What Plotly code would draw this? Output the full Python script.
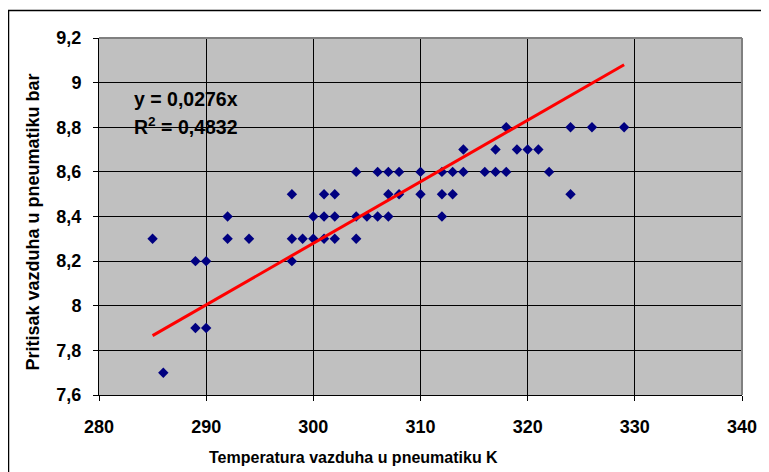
import plotly.graph_objects as go

# ---- data ----
temperature_K = [285, 286, 289, 290, 289, 290, 292, 292, 294,
                 298, 298, 298, 299, 300, 300,
                 301, 302, 304,
                 301, 302, 304, 305, 306, 307, 312,
                 301, 302, 307, 308, 310, 312, 313,
                 304, 306, 307, 308, 310, 312, 313, 314, 316, 317, 318, 322,
                 314, 317, 319, 320, 321,
                 318, 324, 326, 329,
                 324]
pressure_bar = [8.3, 7.7, 8.2, 8.2, 7.9, 7.9, 8.4, 8.3, 8.3,
                8.5, 8.3, 8.2, 8.3, 8.3, 8.4,
                8.3, 8.3, 8.3,
                8.4, 8.4, 8.4, 8.4, 8.4, 8.4, 8.4,
                8.5, 8.5, 8.5, 8.5, 8.5, 8.5, 8.5,
                8.6, 8.6, 8.6, 8.6, 8.6, 8.6, 8.6, 8.6, 8.6, 8.6, 8.6, 8.6,
                8.7, 8.7, 8.7, 8.7, 8.7,
                8.8, 8.8, 8.8, 8.8,
                8.5]
x_tick_values = [280, 290, 300, 310, 320, 330, 340]
x_tick_labels = ["280", "290", "300", "310", "320", "330", "340"]
y_tick_values = [7.6, 7.8, 8.0, 8.2, 8.4, 8.6, 8.8, 9.0, 9.2]
y_tick_labels = ["7,6", "7,8", "8", "8,2", "8,4", "8,6", "8,8", "9", "9,2"]
trend_slope = 0.0276
r_squared_label = "0,4832"
x_title = "Temperatura vazduha u pneumatiku K"
y_title = "Pritisak vazduha u pneumatiku bar"

trend_x = [min(temperature_K), max(temperature_K)]
trend_y = [trend_slope * v for v in trend_x]

FONT = "Liberation Sans, Arial, sans-serif"

# The page places the figure at an 8px body margin; geometry below is in
# window pixels and converted to figure-paper fractions.
OFF = 8
W, H = 769 - OFF, 472 - OFF
PLOT_L, PLOT_R, PLOT_T, PLOT_B = 99, 747, 38, 395   # window pixels
L, R = PLOT_L - OFF, W - (PLOT_R - OFF)
T, B = PLOT_T - OFF, H - (PLOT_B - OFF)
PW, PH = PLOT_R - PLOT_L, PLOT_B - PLOT_T


def px_x(p):
    return (p - PLOT_L) / PW


def px_y(p):
    return (PLOT_B - p) / PH


def bold(s):
    return "<b>" + s + "</b>"


fig = go.Figure()
fig.add_trace(go.Scatter(
    x=temperature_K, y=pressure_bar, mode="markers",
    marker=dict(symbol="diamond", size=8, color="#000080",
                line=dict(width=0)),
    showlegend=False, hoverinfo="x+y"))
fig.add_trace(go.Scatter(
    x=trend_x, y=trend_y, mode="lines",
    line=dict(color="#FF0000", width=3),
    showlegend=False, hoverinfo="skip"))

axis_common = dict(
    showgrid=True, gridcolor="#000000", gridwidth=1,
    showline=True, linecolor="#000000", linewidth=1,
    ticks="outside", ticklen=5, tickcolor="#000000",
    tickfont=dict(family=FONT, size=18, color="#000000"),
    zeroline=False,
)

fig.update_xaxes(range=[280, 340], tickmode="array",
                 tickvals=x_tick_values,
                 ticktext=[bold(t) for t in x_tick_labels],
                 ticklabelstandoff=10, **axis_common)
fig.update_yaxes(range=[7.6, 9.2], tickmode="array",
                 tickvals=y_tick_values,
                 ticktext=[bold(t) for t in y_tick_labels],
                 ticklabelstandoff=8, **axis_common)

fig.update_layout(
    width=W, height=H,
    margin=dict(l=L, r=R, t=T, b=B, pad=0),
    paper_bgcolor="#FFFFFF", plot_bgcolor="#C0C0C0",
    font=dict(family=FONT, color="#000000"),
    shapes=[
        # outer chart border (left and top visible)
        dict(type="rect", xref="paper", yref="paper",
             x0=px_x(7.8), x1=px_x(800), y0=px_y(520), y1=px_y(10.5),
             line=dict(color="#000000", width=1.5), layer="below"),
        # grey plot-area frame (top and right)
        dict(type="line", xref="paper", yref="paper",
             x0=0, x1=1, y0=1, y1=1,
             line=dict(color="#808080", width=2), layer="above"),
        dict(type="line", xref="paper", yref="paper",
             x0=1, x1=1, y0=0, y1=1,
             line=dict(color="#808080", width=2), layer="above"),
    ],
    annotations=[
        dict(text=bold(x_title), xref="paper", yref="paper",
             x=px_x(355), y=px_y(457), xanchor="center", yanchor="middle",
             showarrow=False,
             font=dict(family=FONT, size=16, color="#000000")),
        dict(text=bold(y_title), xref="paper", yref="paper",
             x=px_x(32), y=px_y(222), xanchor="center", yanchor="middle",
             textangle=-90, showarrow=False,
             font=dict(family=FONT, size=18, color="#000000")),
        dict(text=bold("y = " + str(trend_slope).replace(".", ",") + "x"),
             xref="paper", yref="paper",
             x=px_x(132), y=px_y(99), xanchor="left", yanchor="middle",
             showarrow=False,
             font=dict(family=FONT, size=19.5, color="#000000")),
        dict(text=bold("R<sup>2</sup> = " + r_squared_label),
             xref="paper", yref="paper",
             x=px_x(132), y=px_y(126), xanchor="left", yanchor="middle",
             showarrow=False,
             font=dict(family=FONT, size=19.5, color="#000000")),
    ],
)

fig.write_html("out.html")
